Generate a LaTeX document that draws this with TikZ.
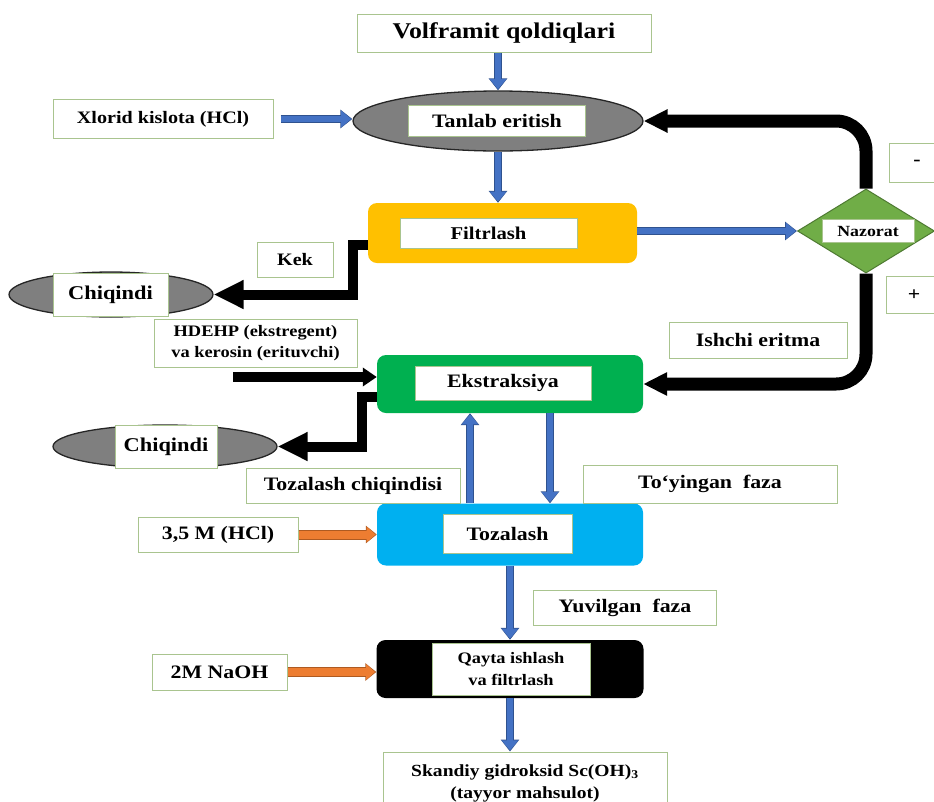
\documentclass[tikz,border=0pt]{standalone}
\usepackage{fontspec}
\setmainfont[FakeStretch=1.15]{Liberation Serif}
\usetikzlibrary{shapes.geometric,arrows.meta}
\definecolor{tagline}{HTML}{A9C48F}
\definecolor{shapegray}{HTML}{7F7F7F}
\definecolor{filtorange}{HTML}{FFC000}
\definecolor{ekgreen}{HTML}{00B050}
\definecolor{tozblue}{HTML}{00B0F0}
\definecolor{nazgreen}{HTML}{70AD47}
\definecolor{nazedge}{HTML}{4E7A32}
\definecolor{arrowblue}{HTML}{4472C4}
\definecolor{blueedge}{HTML}{2F528F}
\definecolor{arrorange}{HTML}{ED7D31}
\definecolor{orangeedge}{HTML}{AE5A21}
\newcommand{\boxfont}[2]{\fontsize{#1}{#2}\selectfont\bfseries}

\begin{document}
\begin{tikzpicture}[x=1pt, y=-1pt,
		tagbox/.style={draw=tagline, line width=1pt, fill=white, inner sep=0pt, align=center, font=\boxfont{19}{22}},
		stage/.style={rounded corners=9pt, inner sep=0pt},
		waste/.style={ellipse, fill=shapegray, draw=black!85, line width=1.3pt, inner sep=0pt},
		bluearr/.style={draw=arrowblue, line width=6pt, shorten >=1.2pt, -{Triangle[width=16pt,length=10pt]},
			preaction={draw=blueedge, line width=8pt, shorten >=0pt, -{Triangle[width=18pt,length=12pt]}}},
		orangearr/.style={draw=arrorange, line width=8pt, shorten >=1.2pt, -{Triangle[width=15pt,length=9pt]},
			preaction={draw=orangeedge, line width=10pt, shorten >=0pt, -{Triangle[width=17pt,length=11pt]}}},
		loopline/.style={line width=13pt, rounded corners=30pt, -{Triangle[width=22pt,length=24pt]}},
		wastearr/.style={line width=10pt, line join=miter, -{Triangle[width=27pt,length=30pt]}},
		feedarr/.style={line width=10pt, -{Triangle[width=18pt,length=14pt]}}]
	\useasboundingbox (0,0) rectangle (934,801);

	\node[waste, minimum width=290, minimum height=60] (tan) at (498,121) {};
	\node[stage, fill=filtorange, minimum width=269, minimum height=60] (filt) at (502.5,233) {};
	\node[diamond, fill=nazgreen, draw=nazedge, line width=1pt, inner sep=0pt, minimum width=137, minimum height=84] (naz) at (866,231) {};
	\node[waste, minimum width=204, minimum height=45] (chq1) at (111,294.5) {};
	\node[stage, fill=ekgreen, minimum width=266, minimum height=58] (eks) at (510,384) {};
	\node[waste, minimum width=224, minimum height=43] (chq2) at (165,446.5) {};
	\node[stage, fill=tozblue, minimum width=266, minimum height=62] (toz) at (510,534.5) {};
	\node[stage, fill=black, minimum width=267, minimum height=58] (qay) at (510,669) {};

	\node[tagbox, minimum width=177, minimum height=31] (tant) at (497,121) {Tanlab eritish};
	\node[tagbox, minimum width=177, minimum height=30, font=\boxfont{18}{22}] (filtt) at (488.5,233) {Filtrlash};
	\node[tagbox, minimum width=92, minimum height=23, font=\boxfont{15.5}{18}] (nazt) at (868,231) {Nazorat};
	\node[tagbox, minimum width=115, minimum height=43, font=\boxfont{19.5}{22}] (chq1t) at (110.5,294.5) {Chiqindi};
	\node[tagbox, minimum width=176, minimum height=34] (ekst) at (503,383) {Ekstraksiya};
	\node[tagbox, minimum width=102, minimum height=43, font=\boxfont{19.5}{22}] (chq2t) at (166,446.5) {Chiqindi};
	\node[tagbox, minimum width=129, minimum height=39] (tozt) at (507.5,533.5) {Tozalash};
	\node[tagbox, minimum width=158, minimum height=52, font=\boxfont{16}{22}] (qayt) at (511,669) {Qayta ishlash\\va filtrlash};

	\node[tagbox, minimum width=294, minimum height=38, font=\boxfont{22.5}{26}] (vol) at (504,33) {Volframit qoldiqlari};
	\node[tagbox, minimum width=220, minimum height=39, font=\boxfont{17.5}{22}] (xl) at (163,119) {Xlorid kislota (HCl)};
	\node[tagbox, minimum width=56, minimum height=39] (minus) at (917,163) {-};
	\node[tagbox, minimum width=56, minimum height=37] (plus) at (914,295) {+};
	\node[tagbox, minimum width=76, minimum height=35, font=\boxfont{17.5}{22}] (kek) at (295,259.5) {Kek};
	\node[tagbox, minimum width=203, minimum height=48, font=\boxfont{16}{21}] (hd) at (255.5,343) {HDEHP (ekstregent)\\va kerosin (erituvchi)};
	\node[tagbox, minimum width=178, minimum height=36] (ish) at (758,340) {Ishchi eritma};
	\node[tagbox, minimum width=214, minimum height=35] (tch) at (353,485.5) {Tozalash chiqindisi};
	\node[tagbox, minimum width=254, minimum height=38] (toy) at (710,484) {To‘yingan\ \ faza};
	\node[tagbox, minimum width=160, minimum height=35] (hcl) at (218,534.5) {3,5 M (HCl)};
	\node[tagbox, minimum width=183, minimum height=35] (yuv) at (625,607.5) {Yuvilgan\ \ faza};
	\node[tagbox, minimum width=135, minimum height=36] (naoh) at (219.5,672) {2M NaOH};
	\node[tagbox, minimum width=284, minimum height=62, font=\boxfont{17}{22}] (sk) at (525,783) {Skandiy gidroksid Sc(OH)\textsubscript{3}\\(tayyor mahsulot)};
	\coordinate (hdin) at (233,377);

	\draw[bluearr] (tan.north |- vol.south) -- (tan.north);
	\draw[bluearr, shorten <=7pt] (xl.east) -- (xl.east -| tan.west);
	\draw[bluearr] (tan.south) -- (tan.south |- filt.north);
	\draw[bluearr] (filt.east |- naz.west) -- (naz.west);
	\draw[loopline] (naz.north) |- (tan.east);
	\draw[loopline] (naz.south) |- (eks.east);
	\draw[wastearr] ([yshift=-12pt]filt.west) -- ++(-15,0) |- (chq1.east);
	\draw[feedarr] (hdin) -- (hdin -| eks.west);
	\draw[wastearr] ([yshift=-13pt]eks.west) -- ++(-15,0) |- (chq2.east);
	\draw[bluearr] ([xshift=-40pt]toz.north) -- ([xshift=-40pt]eks.south);
	\draw[bluearr] ([xshift=40pt]eks.south) -- ([xshift=40pt]toz.north);
	\draw[orangearr] (hcl.east) -- (hcl.east -| toz.west);
	\draw[bluearr] (toz.south) -- (qay.north);
	\draw[orangearr] (naoh.east) -- (naoh.east -| qay.west);
	\draw[bluearr] (qay.south) -- (qay.south |- sk.north);
\end{tikzpicture}
\end{document}
